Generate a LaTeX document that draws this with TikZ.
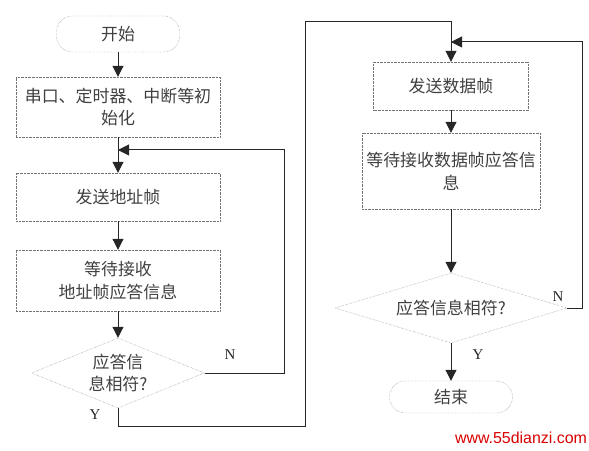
\documentclass[tikz,border=0pt]{standalone}
\usepackage{fontspec}
\setmainfont{Liberation Serif}
\newfontfamily\cjk{Noto Sans CJK SC}
\newfontfamily\wmfont{Liberation Sans}
\usetikzlibrary{arrows.meta,shapes.geometric}

\begin{document}
\begin{tikzpicture}[
	x=1bp, y=-1bp,
	every node/.style={ text=black!75, font=\cjk\fontsize{17}{23}\selectfont, align=center, inner sep=0pt },
	proc/.style={ rectangle, draw=black!55, densely dotted, thin },
	term/.style={ rectangle, rounded corners=16bp, draw=black!55, densely dotted, thin, minimum width=123bp },
	dec/.style={ diamond, draw=black!55, densely dotted, thin, minimum height=70bp },
	flow/.style={ draw=black!85, line width=1bp, -{Triangle[width=11bp,length=11bp]} },
	yn/.style={ font=\fontsize{15}{15}\selectfont, text=black!85 }
]
\useasboundingbox (0,0) rectangle (589,451);

\node at (118,34) (start) [term,minimum height=36bp] {开始};
\node at (118,107) (init) [proc,minimum width=204bp,minimum height=60bp] {串口、定时器、中断等初\\始化};
\node at (118,197) (addr) [proc,minimum width=204bp,minimum height=48bp] {发送地址帧};
\node at (118,280.5) (waddr) [proc,minimum width=204bp,minimum height=61bp] {等待接收\\地址帧应答信息};
\node at (118,373) (chk1) [dec,minimum width=173bp,aspect=2.47] {应答信\\息相符?};
\draw[flow] (start) to (init);
\draw[flow] (init) to (addr);
\draw[flow] (addr) to (waddr);
\draw[flow] (waddr) to (chk1);

\coordinate (j1) at (118,150);
\draw[flow] (chk1.east) -- ++(80,0) |- (j1);
\node at (230,355) (n1) [yn] {N};
\node at (95,415) (y1) [yn] {Y};

\node at (451,86) (data) [proc,minimum width=155bp,minimum height=48bp] {发送数据帧};
\node at (451,171) (wdata) [proc,minimum width=178bp,minimum height=76bp] {等待接收数据帧应答信\\息};
\node at (451,308) (chk2) [dec,minimum width=232bp,aspect=3.3] {应答信息相符?};
\node at (451,397) (stop) [term,minimum height=32bp] {结束};
\draw[flow] (chk1.south) -- ++(0,18) -| (305,22) -| (data.north);
\draw[flow] (data) to (wdata);
\draw[flow] (wdata) to (chk2);
\draw[flow] (chk2) to (stop);

\coordinate (j2) at (451,42);
\draw[flow] (chk2.east) -- ++(15,0) |- (j2);
\node at (558,297) (n2) [yn] {N};
\node at (478,355) (y2) [yn] {Y};

\node at (521,438) (wm) [font=\wmfont\fontsize{16}{16}\selectfont, text=red!85!black] {www.55dianzi.com};

\end{tikzpicture}
\end{document}
